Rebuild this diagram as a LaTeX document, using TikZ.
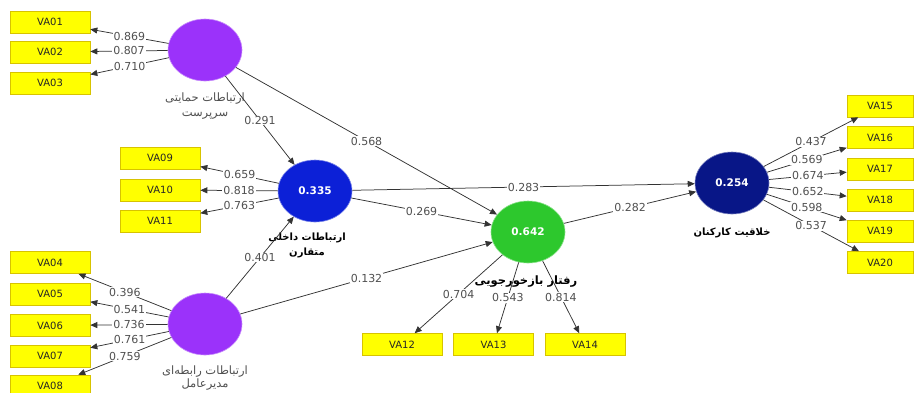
\documentclass[tikz,border=0pt]{standalone}
\usepackage{fontspec}
\setmainfont{DejaVu Sans}
\newfontfamily\fa[Script=Arabic]{DejaVu Sans}
\TeXXeTstate=1
\usetikzlibrary{shapes.geometric,arrows.meta}

\definecolor{lvpurple}{RGB}{155,50,250}
\definecolor{lvblue}{RGB}{12,32,215}
\definecolor{lvgreen}{RGB}{45,200,45}
\definecolor{lvnavy}{RGB}{8,22,135}
\definecolor{indyellow}{RGB}{255,255,0}
\definecolor{indborder}{RGB}{215,195,0}
\definecolor{wgray}{RGB}{80,80,80}

\tikzset{
  ind/.style={rectangle, fill=indyellow, draw=indborder, line width=0.6pt,
    minimum width=80pt, minimum height=22pt, inner sep=0pt,
    text=black!85, font=\fontsize{10}{12}\selectfont},
  indr/.style={ind, minimum width=66pt},
  latent/.style={ellipse, minimum width=74pt, minimum height=62pt, inner sep=0pt,
    fill=#1, draw=#1!55!white, line width=0.6pt,
    text=white, font=\bfseries\fontsize{10.5}{12}\selectfont},
  link/.style={draw=black!80, line width=0.75pt,
    -{Triangle[length=7pt,width=6pt]}},
  weight/.style={fill=white, inner sep=0.8pt, text=wgray,
    font=\fontsize{11}{12}\selectfont},
  lvname/.style={align=center, text=wgray, font=\fa\fontsize{11.5}{14.5}\selectfont},
  lvnameb/.style={align=center, text=black, font=\fa\bfseries\fontsize{10}{15}\selectfont},
}

\begin{document}
\begin{tikzpicture}[x=1pt,y=-1pt]
\useasboundingbox (0,0) rectangle (917,392);
\clip (0,0) rectangle (917,392);

% latent variables
\node[latent=lvpurple] (sup) at (205,50) {};
\node[latent=lvblue]   (int) at (315,191) {0.335};
\node[latent=lvpurple] (ceo) at (205,324) {};
\node[latent=lvgreen]  (fbs) at (528,232) {0.642};
\node[latent=lvnavy]   (cre) at (732,183) {0.254};

% latent variable names
\node[lvname]  (supname) at (205,106) {\beginR ارتباطات حمایتی\endR\\\beginR سرپرست\endR};
\node[lvnameb] (intname) at (307,245) {\beginR ارتباطات داخلی\endR\\\beginR متقارن\endR};
\node[lvname, font=\fa\fontsize{11.5}{13}\selectfont] (ceoname) at (205,378.5) {\beginR ارتباطات رابطه‌ای\endR\\\beginR مدیرعامل\endR};
\node[lvnameb, font=\fa\bfseries\fontsize{11.5}{15}\selectfont] (fbsname) at (526,282) {\beginR رفتار بازخورجویی\endR};
\node[lvnameb] (crename) at (732,233) {\beginR خلاقیت کارکنان\endR};

% indicators
\node[ind] (va01) at (50,22)  {VA01};
\node[ind] (va02) at (50,52)  {VA02};
\node[ind] (va03) at (50,83)  {VA03};
\node[ind] (va04) at (50,262.5) {VA04};
\node[ind] (va05) at (50,294) {VA05};
\node[ind] (va06) at (50,325.5) {VA06};
\node[ind] (va07) at (50,356) {VA07};
\node[ind] (va08) at (50,386) {VA08};
\node[ind] (va09) at (160,158) {VA09};
\node[ind] (va10) at (160,190) {VA10};
\node[ind] (va11) at (160,221) {VA11};
\node[ind] (va12) at (402,344.5) {VA12};
\node[ind] (va13) at (493.5,344.5) {VA13};
\node[ind] (va14) at (585,344.5) {VA14};
\node[indr] (va15) at (880,106) {VA15};
\node[indr] (va16) at (880,137.5) {VA16};
\node[indr] (va17) at (880,169) {VA17};
\node[indr] (va18) at (880,200) {VA18};
\node[indr] (va19) at (880,231) {VA19};
\node[indr] (va20) at (880,262.5) {VA20};

% outer loadings
\draw[link] (sup) -- node[weight]{0.869} (va01);
\draw[link] (sup) -- node[weight]{0.807} (va02);
\draw[link] (sup) -- node[weight]{0.710} (va03);
\draw[link] (int) -- node[weight]{0.659} (va09);
\draw[link] (int) -- node[weight]{0.818} (va10);
\draw[link] (int) -- node[weight]{0.763} (va11);
\draw[link] (ceo) -- node[weight]{0.396} (va04);
\draw[link] (ceo) -- node[weight]{0.541} (va05);
\draw[link] (ceo) -- node[weight]{0.736} (va06);
\draw[link] (ceo) -- node[weight]{0.761} (va07);
\draw[link] (ceo) -- node[weight]{0.759} (va08);
\draw[link] (fbs) -- node[weight]{0.704} (va12);
\draw[link] (fbs) -- node[weight]{0.543} (va13);
\draw[link] (fbs) -- node[weight]{0.814} (va14);
\draw[link] (cre) -- node[weight]{0.437} (va15);
\draw[link] (cre) -- node[weight]{0.569} (va16);
\draw[link] (cre) -- node[weight]{0.674} (va17);
\draw[link] (cre) -- node[weight]{0.652} (va18);
\draw[link] (cre) -- node[weight]{0.598} (va19);
\draw[link] (cre) -- node[weight]{0.537} (va20);

% structural paths
\draw[link] (sup) -- node[weight]{0.291} (int);
\draw[link] (sup) -- node[weight]{0.568} (fbs);
\draw[link] (int) -- node[weight]{0.283} (cre);
\draw[link] (int) -- node[weight]{0.269} (fbs);
\draw[link] (ceo) -- node[weight]{0.401} (int);
\draw[link] (ceo) -- node[weight]{0.132} (fbs);
\draw[link] (fbs) -- node[weight]{0.282} (cre);
\end{tikzpicture}
\end{document}
